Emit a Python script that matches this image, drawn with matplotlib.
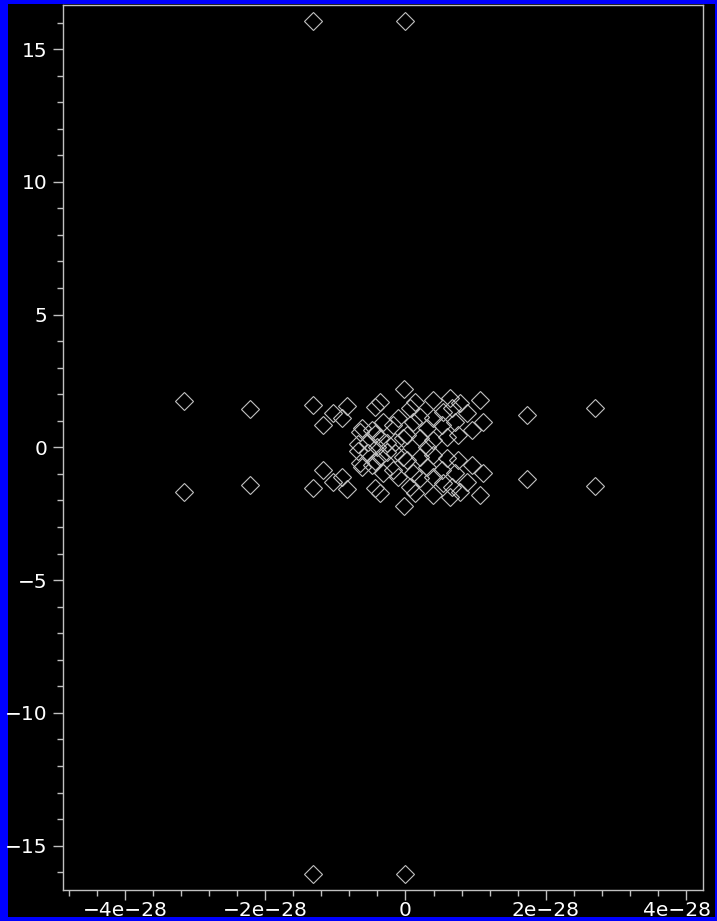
import matplotlib
matplotlib.use("Agg")
import matplotlib.pyplot as plt
from matplotlib.patches import Rectangle
from matplotlib.ticker import MultipleLocator, FuncFormatter
from matplotlib.transforms import ScaledTranslation

# eigenvalues: real part (units of 1e-28) and imaginary part, upper half-plane
re_upper = [-1.318, 0.0, -3.158, -2.217, -1.318, 1.735, 2.705, -0.02,
            -1.175, -1.033, -0.904, -0.833, -0.434, -0.362, -0.619, -0.476,
            -0.320, -0.177, -0.106, 0.137, 0.066, 0.394, 0.636, 0.779,
            1.064, 0.665, 0.536, 0.394, 0.208, 0.108, 0.308, 0.522,
            0.708, 0.879, 1.107, 0.950, 0.750, 0.593, 0.394, 0.208,
            0.023, -0.648, -0.533, -0.362, -0.262, -0.148, -0.034, -0.676,
            -0.434]
im_upper = [16.06, 16.06, 1.74, 1.44, 1.59, 1.22, 1.48, 2.20,
            0.84, 1.29, 1.10, 1.56, 1.52, 1.71, 0.73, 0.65,
            0.95, 0.84, 1.10, 1.71, 1.48, 1.78, 1.86, 1.67,
            1.78, 1.48, 1.33, 1.10, 1.14, 0.95, 0.73, 0.84,
            0.95, 1.29, 0.95, 0.65, 0.46, 0.39, 0.27, 0.35,
            0.46, 0.58, 0.20, 0.35, 0.16, 0.20, 0.35, 0.12,
            0.50]

# conjugate partners in the lower half-plane
re_lower = [-1.318, 0.0, -3.158, -2.217, -1.318, 1.735, 2.705, -0.02,
            -1.175, -1.033, -0.904, -0.833, -0.434, -0.362, -0.619, -0.476,
            -0.320, -0.177, -0.106, 0.137, 0.066, 0.394, 0.636, 0.779,
            1.064, 0.665, 0.536, 0.394, 0.208, 0.108, 0.308, 0.522,
            0.708, 0.879, 1.107, 0.950, 0.750, 0.593, 0.394, 0.208,
            0.023, -0.648, -0.533, -0.362, -0.262, -0.148, -0.034, -0.676,
            -0.434]
im_lower = [-16.06, -16.06, -1.69, -1.42, -1.53, -1.19, -1.46, -2.20,
            -0.84, -1.29, -1.10, -1.56, -1.52, -1.71, -0.73, -0.65,
            -0.95, -0.84, -1.10, -1.71, -1.48, -1.78, -1.86, -1.67,
            -1.78, -1.48, -1.33, -1.10, -1.14, -0.95, -0.73, -0.84,
            -0.95, -1.29, -0.95, -0.65, -0.46, -0.39, -0.27, -0.35,
            -0.46, -0.58, -0.20, -0.35, -0.16, -0.20, -0.35, -0.12,
            -0.50]

# real eigenvalues
re_axis = [-0.40, 0.30]
im_axis = [0.0, 0.0]

SCALE = 1e-28
GRAY = "#c0c0c0"


def fmt_x(v, pos):
    n = int(round(v / SCALE))
    if n == 0:
        return "0"
    return "{}e\u221228".format(n).replace("-", "\u2212")


def main():
    fig = plt.figure(figsize=(7.17, 9.21), dpi=100, facecolor="#0000ff")
    W, H = 717, 921
    fig.patches.append(Rectangle((8 / W, 4 / H), 707 / W, 913 / H,
                                 transform=fig.transFigure, facecolor="black",
                                 edgecolor="none", zorder=-10))

    ax = fig.add_axes([63 / W, 31 / H, 640 / W, 885 / H])
    ax.set_facecolor("black")

    xs = [v * SCALE for v in re_upper + re_lower + re_axis]
    ys = im_upper + im_lower + im_axis
    ax.plot(xs, ys, linestyle="none", marker="D", markersize=9.5,
            markerfacecolor="none", markeredgecolor=GRAY, markeredgewidth=0.8)

    ax.set_xlim(-4.882 * SCALE, 4.241 * SCALE)
    ax.set_ylim(-16.67, 16.66)

    ax.xaxis.set_major_locator(MultipleLocator(2 * SCALE))
    ax.xaxis.set_minor_locator(MultipleLocator(0.4 * SCALE))
    ax.xaxis.set_major_formatter(FuncFormatter(fmt_x))
    ax.yaxis.set_major_locator(MultipleLocator(5))
    ax.yaxis.set_minor_locator(MultipleLocator(1))

    for s in ax.spines.values():
        s.set_color(GRAY)
        s.set_linewidth(1.0)

    ax.tick_params(which="major", direction="out", length=7, width=1,
                   color=GRAY, labelcolor="white", labelsize=14.5)
    ax.tick_params(which="minor", direction="out", length=4, width=1,
                   color=GRAY)
    ax.tick_params(axis="y", which="major", pad=4)
    ax.tick_params(axis="x", which="major", pad=1)

    # keep the rightmost x label inside the frame
    fig.canvas.draw()
    for tick in ax.xaxis.get_major_ticks():
        if tick.label1.get_text() == "4e\u221228":
            tick.label1.set_transform(tick.label1.get_transform() +
                                      ScaledTranslation(-9 / 100, 0, fig.dpi_scale_trans))

    plt.savefig("out.png", dpi=100, facecolor=fig.get_facecolor())
    plt.close()


if __name__ == "__main__":
    main()
